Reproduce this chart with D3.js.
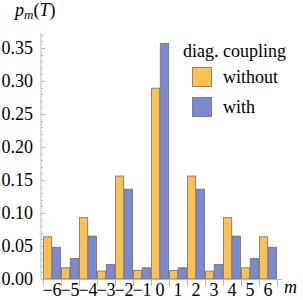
<!DOCTYPE html>
<html><head><meta charset="utf-8">
<script src="https://cdn.jsdelivr.net/npm/d3@7"></script>
<style>body{margin:0;background:#fff}svg{display:block}text{font-family:"Liberation Serif","Times New Roman",serif;fill:#000}</style>
</head><body><svg id="c" width="303" height="300"></svg>
<script>
const categories = ["-6","-5","-4","-3","-2","-1","0","1","2","3","4","5","6"];
const tickLabels = ["\u22126","\u22125","\u22124","\u22123","\u22122","\u22121","0","1","2","3","4","5","6"];
const without = [0.064,0.017,0.093,0.012,0.156,0.013,0.289,0.013,0.156,0.012,0.093,0.017,0.064];
const withC   = [0.048,0.031,0.065,0.022,0.136,0.017,0.357,0.017,0.136,0.022,0.065,0.031,0.048];
const seriesNames = ["without","with"];
const yTicks = [0.00,0.05,0.10,0.15,0.20,0.25,0.30,0.35];
const colors = ["#FDBF52","#7B88D2"];

const svg = d3.select("#c");
const x = d3.scaleBand().domain(categories).range([43,277]).paddingInner(0).paddingOuter(0);
const x1 = d3.scaleBand().domain(seriesNames).range([0.5, x.bandwidth()-0.5]).paddingInner(0.08);
const y = d3.scaleLinear().domain([0,0.35]).range([279,48]);
const axisCol = "#b8b8b8";

// y axis
svg.append("line").attr("x1",41).attr("x2",41).attr("y1",y(0)).attr("y2",33).attr("stroke",axisCol);
const minor = d3.range(0,0.375,0.01);
svg.selectAll(".mn").data(minor).enter().append("line")
  .attr("x1",41).attr("x2",43).attr("y1",d=>Math.round(y(d))+0.5).attr("y2",d=>Math.round(y(d))+0.5).attr("stroke",axisCol);
svg.selectAll(".mj").data(yTicks).enter().append("line")
  .attr("x1",41).attr("x2",45).attr("y1",d=>Math.round(y(d))+0.5).attr("y2",d=>Math.round(y(d))+0.5).attr("stroke",axisCol);
svg.selectAll(".yl").data(yTicks).enter().append("text")
  .attr("x",33).attr("y",d=>y(d)+6).attr("text-anchor","end").attr("font-size",18)
  .text(d=>d3.format(".2f")(d));

// bars
const data = categories.map((c,i)=>({c, v:[without[i],withC[i]]}));
const g = svg.selectAll(".grp").data(data).enter().append("g").attr("transform",d=>`translate(${x(d.c)},0)`);
g.selectAll("rect").data(d=>d.v.map((v,k)=>({v,k}))).enter().append("rect")
  .attr("x",d=>x1(seriesNames[d.k])).attr("width",x1.bandwidth())
  .attr("y",d=>y(d.v)).attr("height",d=>y(0)-y(d.v))
  .attr("fill",d=>colors[d.k]).attr("stroke","#6b6b6b").attr("stroke-opacity",0.8).attr("stroke-width",1);

// x axis
svg.append("line").attr("x1",41).attr("x2",282).attr("y1",279.5).attr("y2",279.5).attr("stroke",axisCol);
const bounds = categories.map(c=>x(c)).concat([x.range()[1]]);
svg.selectAll(".sep").data(bounds).enter().append("line")
  .attr("x1",d=>Math.round(d)+0.5).attr("x2",d=>Math.round(d)+0.5).attr("y1",280).attr("y2",286).attr("stroke",axisCol);
svg.selectAll(".xl").data(categories).enter().append("text")
  .attr("x",(d)=>x(d)+x.bandwidth()/2).attr("y",296).attr("text-anchor","middle").attr("font-size",18)
  .text((d,i)=>tickLabels[i]);

// axis labels
const yl = svg.append("text").attr("x",15).attr("y",16).attr("font-size",18).attr("font-style","italic");
yl.append("tspan").text("p");
yl.append("tspan").attr("font-size",13).attr("dy",3).text("m");
yl.append("tspan").attr("dy",-3).attr("font-style","normal").text("(");
yl.append("tspan").text("T");
yl.append("tspan").attr("font-style","normal").text(")");
svg.append("text").attr("x",284).attr("y",293).attr("font-size",18).attr("font-style","italic").text("m");

// legend
svg.append("text").attr("x",183).attr("y",57).attr("font-size",18).text("diag. coupling");
seriesNames.forEach((s,i)=>{
  svg.append("rect").attr("x",192.5).attr("y",67.5+i*30).attr("width",19).attr("height",19)
    .attr("fill",colors[i]).attr("stroke","#6b6b6b").attr("stroke-opacity",0.8);
  svg.append("text").attr("x",223).attr("y",83+i*30).attr("font-size",18).text(s);
});
</script></body></html>
